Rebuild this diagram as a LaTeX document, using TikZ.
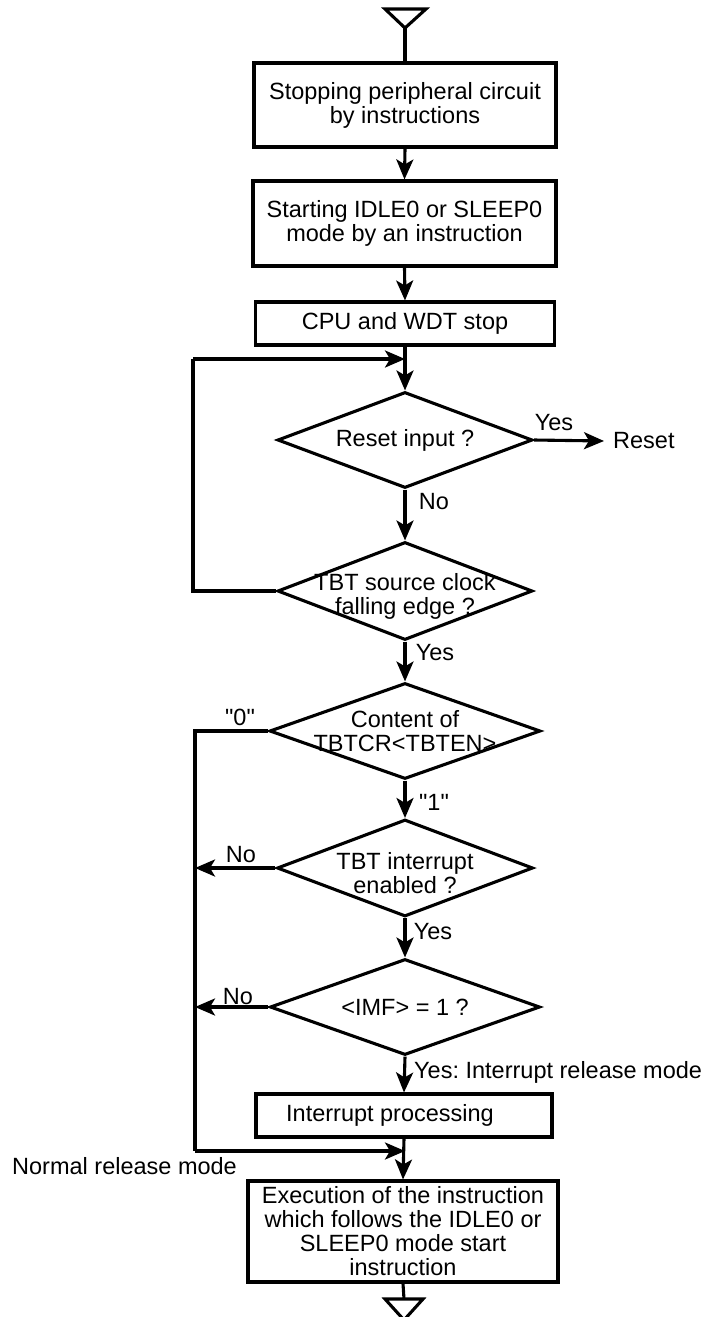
\documentclass[tikz,border=0pt]{standalone}
\usepackage{fontspec}
\newfontfamily\chartfont{Liberation Sans}
\usetikzlibrary{arrows.meta,shapes.geometric}
\begin{document}
\frenchspacing
\begin{tikzpicture}[x=1pt,y=-1pt,
  every node/.style={font=\chartfont\fontsize{23.5}{24}\selectfont, align=center},
  line/.style={line width=3.1pt},
  arr/.style={line width=3.1pt, -{Stealth[length=20pt,width=17pt,inset=5pt]}},
  procbox/.style={draw, line width=3.1pt, inner sep=0pt},
  decision/.style={draw, diamond, line width=3.1pt, inner sep=0pt},
  lbl/.style={inner sep=0pt}
]
\useasboundingbox (0,0) rectangle (710,1317);

% entry and exit terminals
\coordinate (tin) at (405,28);
\draw[line, line join=miter] (385,9) -- (426,9) -- (tin) -- cycle;
\coordinate (tout) at (404,1299);
\draw[line, line join=miter] (385,1299) -- (423,1299) -- (404,1320) -- cycle;

% process boxes
\node[procbox, minimum width=302, minimum height=84] (b1) at (405,105) {Stopping peripheral circuit\\by instructions};
\node[procbox, minimum width=303, minimum height=85] (b2) at (404.5,223.5) {Starting IDLE0 or SLEEP0\\mode by an instruction};
\node[procbox, minimum width=299, minimum height=43] (b3) at (405,323.5) {CPU and WDT stop};
\node[procbox, minimum width=296, minimum height=43] (bi) at (404,1115.5) {\hspace*{-28pt}Interrupt processing};
\node[procbox, minimum width=310, minimum height=101] (be) at (403,1231.5) {Execution of the instruction\\which follows the IDLE0 or\\SLEEP0 mode start\\instruction};

% decisions
\node[decision, minimum width=255, minimum height=96] (d1) at (405,440) {};
\node[lbl] (t1) at (d1.center) {Reset input ?};
\node[decision, minimum width=255, minimum height=98] (d2) at (405,591) {};
\node[lbl] (t2) at (405,596) {TBT source clock\\falling edge ?};
\node[decision, minimum width=271, minimum height=96] (d3) at (405,731) {};
\node[lbl] (t3) at (405,731) {Content of\\TBTCR<TBTEN>};
\node[decision, minimum width=256, minimum height=97] (d4) at (405,868) {};
\node[lbl] (t4) at (405,873) {TBT interrupt\\enabled ?};
\node[decision, minimum width=270, minimum height=96] (d5) at (405,1007) {};
\node[lbl] (t5) at (d5.center) {<IMF> = 1 ?};

\node[lbl, anchor=west] (reset) at (613,441) {Reset};

% main flow
\draw[line] (tin) -- (b1.north);
\draw[arr] (b1.south) -- (b2.north);
\draw[arr] (b2.south) -- (b3.north);
\coordinate (j1) at (405,359);
\draw[arr] (b3.south) -- (d1.north);
\draw[arr] (d1.east) -- ([xshift=-9pt]reset.west);
\draw[arr] (d1.south) -- (d2.north);
\draw[arr] (d2.south) -- (d3.north);
\draw[arr] (d3.south) -- (d4.north);
\draw[arr] (d4.south) -- (d5.north);
\draw[arr] (d5.south) -- (bi.north);
\draw[arr] (bi.south) -- (be.north);
\draw[line] (be.south) -- (tout);

% waiting loop
\coordinate (l1) at (193,591);
\coordinate (l1t) at (193,359);
\draw[line] (d2.west) -- (l1) -- (l1t);
\draw[arr] (l1t) -- (j1);

% normal release path
\coordinate (l2) at (195,731);
\coordinate (l2b) at (195,1151);
\coordinate (j2) at (405,1151);
\draw[line] (d3.west) -- (l2) -- (l2b);
\draw[arr] (l2b) -- (j2);
\draw[arr] (d4.west) -- (d4.west -| l2);
\draw[arr] (d5.west) -- (d5.west -| l2);

% branch labels
\node[lbl] (y1) at (554,423) {Yes};
\node[lbl] (n1) at (434,502) {No};
\node[lbl] (y2) at (435,653) {Yes};
\node[lbl] (z0) at (240,717) {"0"};
\node[lbl] (z1) at (434,802) {"1"};
\node[lbl] (n4) at (241,855) {No};
\node[lbl] (y4) at (433,932) {Yes};
\node[lbl] (n5) at (238,997) {No};
\node[lbl, anchor=west] (y5) at (414,1072) {Yes: Interrupt release mode};
\node[lbl, anchor=west] (nr) at (12,1166) {Normal release mode};
\end{tikzpicture}
\end{document}
